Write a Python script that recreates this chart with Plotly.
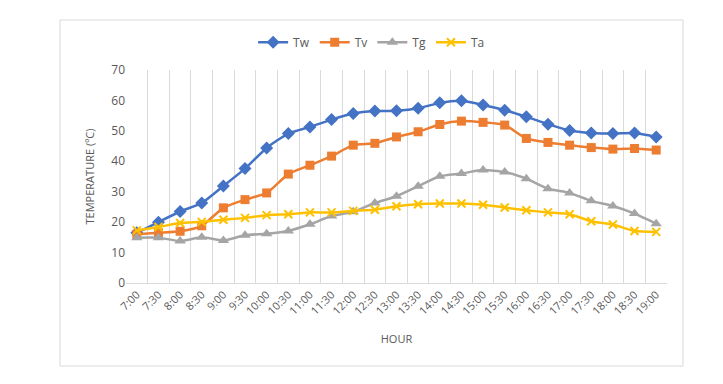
import plotly.graph_objects as go

# Data
hours = ["7:00", "7:30", "8:00", "8:30", "9:00", "9:30", "10:00", "10:30", "11:00",
         "11:30", "12:00", "12:30", "13:00", "13:30", "14:00", "14:30", "15:00",
         "15:30", "16:00", "16:30", "17:00", "17:30", "18:00", "18:30", "19:00"]

tw = [16.5, 20.0, 23.5, 26.3, 31.9, 37.6, 44.4, 49.1, 51.3, 53.7, 55.7, 56.5, 56.6,
      57.4, 59.2, 59.9, 58.5, 56.8, 54.6, 52.2, 50.1, 49.3, 49.1, 49.3, 48.0]
tv = [16.0, 16.5, 17.0, 18.8, 24.7, 27.4, 29.6, 35.8, 38.7, 41.7, 45.3, 45.9, 48.0,
      49.7, 52.1, 53.2, 52.8, 51.9, 47.5, 46.2, 45.3, 44.5, 44.0, 44.2, 43.7]
tg = [14.9, 14.9, 13.8, 15.0, 14.0, 15.7, 16.2, 17.1, 19.3, 22.0, 23.4, 26.3, 28.5,
      31.8, 35.1, 36.0, 37.1, 36.5, 34.3, 31.0, 29.6, 27.0, 25.3, 22.8, 19.5]
ta = [17.3, 18.4, 19.7, 20.1, 20.8, 21.4, 22.3, 22.6, 23.2, 23.2, 23.7, 24.1, 25.2,
      25.9, 26.1, 26.1, 25.7, 24.8, 23.9, 23.2, 22.6, 20.3, 19.2, 17.1, 16.8]

SERIES = [
    ("Tw", tw, "#4472C4", "diamond", 10),
    ("Tv", tv, "#ED7D31", "square", 9),
    ("Tg", tg, "#A5A5A5", "triangle-up", 10),
    ("Ta", ta, "#FFC000", "x-thin", 8),
]

FONT = "Open Sans, Liberation Sans, sans-serif"
GREY = "#595959"

fig = go.Figure()
for name, values, color, symbol, size in SERIES:
    fig.add_trace(go.Scatter(
        x=hours,
        y=values,
        name=name,
        mode="lines+markers",
        line=dict(color=color, width=2.5, shape="spline", smoothing=0.6),
        marker=dict(symbol=symbol, size=size, color=color,
                    line=dict(color=color, width=2 if symbol == "x-thin" else 0)),
    ))

# Light grey chart border (60,20)-(683,366) in pixels
fig.add_shape(type="rect", xref="paper", yref="paper",
              x0=-0.1220, x1=1.0296, y0=-0.3897, y1=1.2347,
              line=dict(color="#D9D9D9", width=1), layer="below")

# page body adds an 8px offset, so margins are shifted to compensate
fig.update_layout(
    width=723,
    height=384,
    paper_bgcolor="white",
    plot_bgcolor="white",
    margin=dict(l=118, r=64, t=62, b=109),
    font=dict(family=FONT, color=GREY, size=11),
    legend=dict(orientation="h", x=0.454, xanchor="center", y=1.13, yanchor="middle",
                font=dict(size=12, color=GREY), tracegroupgap=0),
    xaxis=dict(
        type="category",
        tickson="boundaries",
        automargin=False,
        showgrid=True,
        gridcolor="#D9D9D9",
        gridwidth=1,
        showline=True,
        linecolor="#D9D9D9",
        ticks="",
        tickangle=-45,
        tickfont=dict(size=11, color=GREY),
        title=dict(text="HOUR", font=dict(size=11, color=GREY), standoff=18),
        range=[-0.5, 24.5],
    ),
    yaxis=dict(
        range=[0, 70],
        dtick=10,
        automargin=False,
        showgrid=False,
        zeroline=False,
        showline=False,
        ticks="",
        tickfont=dict(size=12, color=GREY),
        title=dict(text="TEMPERATURE (ºC)", font=dict(size=11, color=GREY), standoff=14),
    ),
)

fig.write_html("out.html")
